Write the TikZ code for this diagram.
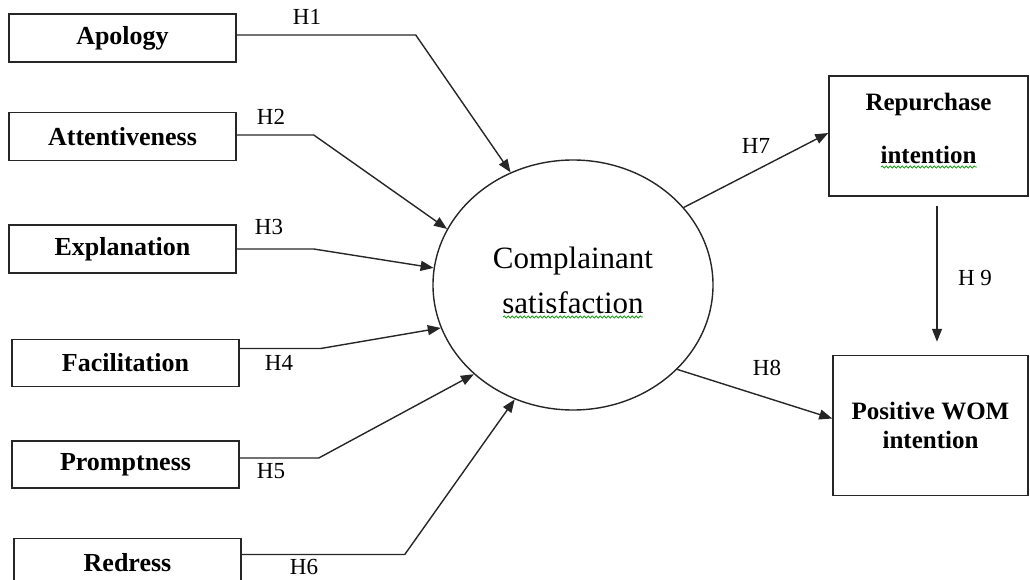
\documentclass[tikz,border=0pt]{standalone}
\usepackage{fontspec}
\setmainfont{Liberation Serif}
\usetikzlibrary{positioning, shapes.geometric, arrows.meta, decorations.pathmorphing}

\begin{document}
\begin{tikzpicture}[
    x=1pt, y=-1pt,
    >={Triangle[length=13pt, width=10pt]},
    % Styles
    cause/.style={ % Recovery dimension boxes
        rectangle,
        draw=black!85,
        line width=1.5pt,
        minimum width=227pt,
        minimum height=48pt,
        inner sep=0pt,
        font=\fontsize{26}{30}\selectfont\bfseries
    },
    outcome/.style={ % Intention boxes
        rectangle,
        draw=black!85,
        line width=1.5pt,
        inner sep=0pt,
        align=center,
        font=\fontsize{25}{29}\selectfont\bfseries
    },
    link/.style={
        ->,
        line width=1.4pt,
        black!85
    },
    hyp/.style={ % Hypothesis labels
        inner sep=0pt,
        font=\fontsize{23}{27}\selectfont
    },
    spell/.style={ % Wavy underline
        decorate,
        decoration={snake, amplitude=1.2pt, segment length=4pt},
        green!60!black,
        line width=0.7pt
    }
]
    \useasboundingbox (0,0) rectangle (1030,580);

    % Recovery dimensions
    \node[cause] (apology) at (122.5,38) {Apology};
    \node[cause] (attent) [below=49pt of apology] {Attentiveness};
    \node[cause] (explan) [below=63pt of attent] {Explanation};
    \node[cause, minimum height=47pt] (facil) [below=65pt of explan, xshift=3pt] {Facilitation};
    \node[cause, minimum height=47pt] (prompt) [below=53pt of facil] {Promptness};
    \node[cause] (redress) [below=49pt of prompt, xshift=2pt] {Redress};

    % Satisfaction and intentions
    \node[ellipse, draw=black!85, line width=1.4pt, minimum width=280pt, minimum height=250pt,
        inner sep=0pt, align=center, font=\fontsize{31}{45}\selectfont] (sat) at (573,285) {Complainant\\satisfaction\rule[-10pt]{0pt}{0pt}};
    \node[outcome, minimum width=199pt, minimum height=120pt, font=\fontsize{25}{53}\selectfont\bfseries] (repurch) at (928.5,136) {Repurchase\\intention\rule[-15pt]{0pt}{0pt}};
    \node[outcome, minimum width=195pt, minimum height=140pt] (wom) [below=158pt of repurch, xshift=2pt] {Positive WOM\\intention};

    % Paths
    \draw[link] ([yshift=3pt]apology.east) -- ++(179,0) -- (sat.119);
    \draw[link] ([yshift=1.5pt]attent.east) -- ++(77,0) -- (sat.156);
    \draw[link] (explan.east) -- ++(77,0) -- (sat.173);
    \draw[link] ([yshift=14.5pt]facil.east) -- ++(81,0) -- (sat.198);
    \draw[link] ([yshift=6.5pt]prompt.east) -- ++(79,0) -- (sat.222);
    \draw[link] ([yshift=8pt]redress.east) -- ++(163,0) -- (sat.243);
    \draw[link] (sat.35) -- ([yshift=3pt]repurch.west);
    \draw[link] (sat.321) -- ([yshift=7pt]wom.west);
    \draw[link] ([xshift=8.5pt,yshift=-9pt]repurch.south) -- ([xshift=6.5pt,yshift=13pt]wom.north);

    % Hypothesis labels
    \node[hyp] (h1) at (307,17) {H1};
    \node[hyp] (h2) at (271,117) {H2};
    \node[hyp] (h3) at (269,227) {H3};
    \node[hyp] (h4) at (279,363) {H4};
    \node[hyp] (h5) at (271,471) {H5};
    \node[hyp] (h6) at (304,567) {H6};
    \node[hyp] (h7) at (756,146) {H7};
    \node[hyp] (h8) at (767,368) {H8};
    \node[hyp] (h9) at (975,278) {H 9};

    % Underlines
    \draw[spell] ([xshift=-70pt,yshift=-32pt]sat.center) -- ++(140,0);
    \draw[spell] ([xshift=-47.5pt,yshift=-31pt]repurch.center) -- ++(96,0);
\end{tikzpicture}
\end{document}
